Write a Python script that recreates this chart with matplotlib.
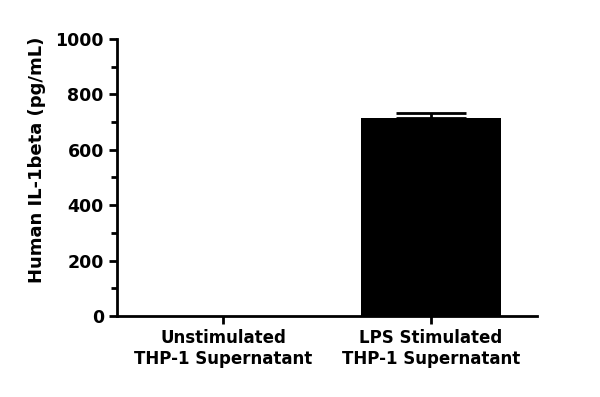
import matplotlib.pyplot as plt
import numpy as np

# Dados
categorias = ['Unstimulated\nTHP-1 Supernatant', 'LPS Stimulated\nTHP-1 Supernatant']
valores = [0, 715]
erros = [0, 18]

fig = plt.figure(figsize=(6, 3.97), dpi=100)
ax = fig.add_axes([0.195, 0.204, 0.70, 0.698])

x = np.arange(len(categorias))
ax.bar(x, valores, width=0.67, color='black')
ax.errorbar(x[1:], valores[1:], yerr=[[0], erros[1:]], fmt='none',
            ecolor='black', elinewidth=2, capsize=25, capthick=2)

ax.set_xlim(-0.51, 1.51)
ax.set_ylim(0, 1000)
ax.set_yticks(np.arange(0, 1001, 200))
ax.set_yticks(np.arange(100, 1000, 200), minor=True)
ax.set_xticks(x)
ax.set_xticklabels(categorias, fontsize=12, fontweight='bold')
ax.set_ylabel('Human IL-1beta (pg/mL)', fontsize=13, fontweight='bold')
ax.yaxis.set_label_coords(-0.168, 0.565)

for lbl in ax.get_yticklabels():
    lbl.set_fontsize(12.5)
    lbl.set_fontweight('bold')

ax.spines['top'].set_visible(False)
ax.spines['right'].set_visible(False)
ax.spines['left'].set_linewidth(2)
ax.spines['bottom'].set_linewidth(2)
ax.tick_params(axis='both', which='major', width=2, length=6)
ax.tick_params(axis='y', which='minor', width=2, length=4)

fig.savefig('out.png', dpi=100)
